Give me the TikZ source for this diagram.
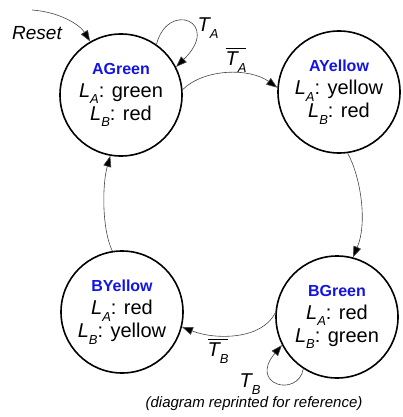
\documentclass[tikz,border=0pt]{standalone}
\usepackage{fontspec}
\setmainfont{Liberation Sans}
\usetikzlibrary{arrows.meta}
\definecolor{titleblue}{RGB}{20,20,225}
\definecolor{edgegray}{RGB}{70,70,70}
\newcommand\Lsub[2]{{\itshape #1}\raisebox{-0.34em}{\fontsize{13}{13}\selectfont\itshape #2}}
\newcommand\Obar[1]{\setbox0=\hbox{#1}\vbox{\hrule height 0.7pt width \wd0 \kern 3pt \box0}}
\newcommand\Ttitle[1]{{\fontsize{16}{18}\selectfont\bfseries\color{titleblue}#1}}
\tikzset{
  state/.style={circle, draw=black, line width=1.6pt, minimum size=122pt, inner sep=0pt,
    align=center, font=\fontsize{20}{23}\selectfont},
  trans/.style={draw=edgegray, line width=0.6pt, -{Triangle[length=11pt,width=8pt,fill=black]}},
  lbl/.style={font=\fontsize{20}{22}\selectfont, inner sep=0pt},
}
\begin{document}
\begin{tikzpicture}[x=1pt,y=-1pt]
\useasboundingbox (0,0) rectangle (402,417);
\node[state] (AG) at (121,95) {\Ttitle{AGreen}\\\Lsub{L}{A}: green\\\Lsub{L}{B}: red};
\node[state] (AY) at (339,92) {\Ttitle{AYellow}\\\Lsub{L}{A}: yellow\\\Lsub{L}{B}: red};
\node[state] (BG) at (337,317) {\Ttitle{BGreen}\\\Lsub{L}{A}: red\\\Lsub{L}{B}: green};
\node[state] (BY) at (122,312) {\Ttitle{BYellow}\\\Lsub{L}{A}: red\\\Lsub{L}{B}: yellow};

\coordinate (rs) at (32,10);
\node[lbl, font=\fontsize{19}{21}\selectfont\itshape] (reset) at (37,33) {Reset};
\draw[trans] (rs) .. controls (60,12) and (80,25) .. (AG.120);

\draw[trans] (AG.55) .. controls (168,0) and (222,22) .. (AG.27);
\node[lbl] (ta) at (208,28) {\Lsub{T}{A}};
\node[lbl] (tab) at (236,60) {\Obar{\Lsub{T}{A}}};
\draw[trans] (AG.5) .. controls (205,68) and (250,68) .. (AY.176);

\draw[trans] (AY.-82) .. controls (360,175) and (368,222) .. (BG.75);

\draw[trans] (BG.176) .. controls (262,340) and (215,340) .. (BY.-14);
\node[lbl] (tbb) at (218,351) {\Obar{\Lsub{T}{B}}};

\draw[trans] (BG.237) .. controls (298,398) and (248,385) .. (BG.207);
\node[lbl] (tb) at (250,384) {\Lsub{T}{B}};

\draw[trans] (BY.99) .. controls (102,230) and (102,185) .. (AG.260);

\node[inner sep=0pt, font=\fontsize{15}{17}\selectfont\itshape] (cap) at (254,404) {(diagram reprinted for reference)};
\end{tikzpicture}
\end{document}
